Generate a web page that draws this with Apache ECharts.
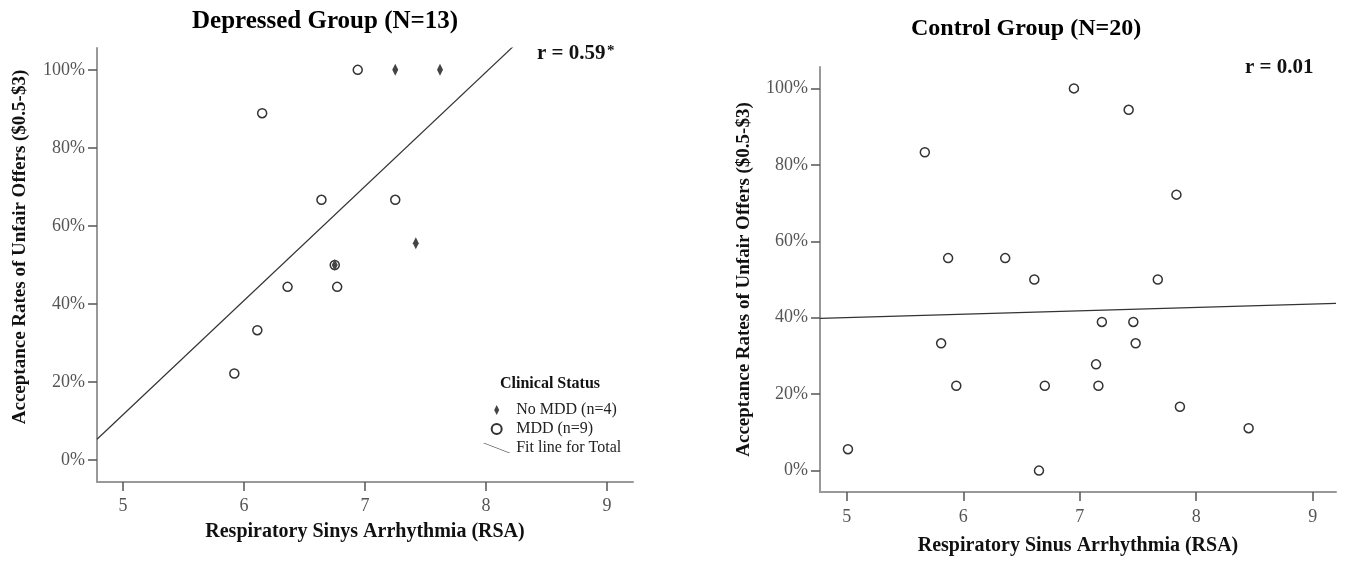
<!DOCTYPE html>
<html>
<head>
    <meta charset="utf-8">
    <script src="https://cdn.jsdelivr.net/npm/echarts@6/dist/echarts.min.js"></script>
    <title></title>
    <style>
        html, body { margin: 0; padding: 0; background: #fff; }
        #main { width: 1346px; height: 564px; }
    </style>
</head>
<body>
<div id="main"></div>
<script>
    // depressed group, RSA (x) vs acceptance rate in % (y)
    var noMddX = [7.25, 7.62, 7.42, 6.75];
    var noMddY = [100, 100, 55.6, 50];
    var mddX = [6.15, 6.64, 6.94, 7.25, 6.75, 6.77, 6.36, 6.11, 5.92];
    var mddY = [88.9, 66.7, 100, 66.7, 50, 44.4, 44.4, 33.3, 22.2];
    // control group
    var ctrlX = [5.67, 5.87, 6.36, 6.61, 6.95, 7.42, 7.83, 7.67, 5.81, 5.94,
                 6.70, 5.01, 6.65, 7.19, 7.46, 7.48, 7.14, 7.16, 7.86, 8.45];
    var ctrlY = [83.3, 55.6, 55.6, 50, 100, 94.4, 72.2, 50, 33.3, 22.2,
                 22.2, 5.6, 0, 38.9, 38.9, 33.3, 27.8, 22.2, 16.7, 11.1];
    var xTicks = [5, 6, 7, 8, 9];
    var yTicks = [0, 20, 40, 60, 80, 100];

    var serif = "'Liberation Serif', 'DejaVu Serif', serif";

    function pairs(xs, ys) {
        return xs.map(function (x, i) { return [x, ys[i]]; });
    }

    // least squares fit line (what the "Fit line for Total" is)
    function fitLine(xs, ys, x0, x1) {
        var n = xs.length, mx = 0, my = 0, sxy = 0, sxx = 0;
        for (var i = 0; i < n; i++) { mx += xs[i]; my += ys[i]; }
        mx /= n; my /= n;
        for (var j = 0; j < n; j++) {
            sxy += (xs[j] - mx) * (ys[j] - my);
            sxx += (xs[j] - mx) * (xs[j] - mx);
        }
        var b = sxy / sxx, a = my - b * mx;
        return [[x0, a + b * x0], [x1, a + b * x1]];
    }

    function xAxisFor(idx, min, max, name, gap, labelMargin) {
        return {
            gridIndex: idx, type: 'value', min: min, max: max,
            name: name, nameLocation: 'middle', nameGap: gap,
            nameTextStyle: { fontFamily: serif, fontWeight: 'bold', fontSize: 20, color: '#111' },
            axisLine: { show: true, onZero: false, lineStyle: { color: '#999', width: 2 } },
            axisTick: { show: true, customValues: xTicks, length: 9, lineStyle: { color: '#555', width: 1.5 } },
            axisLabel: { customValues: xTicks, margin: labelMargin, fontFamily: serif, fontSize: 18, color: '#555' },
            splitLine: { show: false }
        };
    }

    function yAxisFor(idx, name, gap, namePad) {
        return {
            gridIndex: idx, type: 'value', min: -5.6, max: 105.6,
            name: name, nameLocation: 'middle', nameGap: gap,
            nameTextStyle: { fontFamily: serif, fontWeight: 'bold', fontSize: 19, color: '#111', padding: namePad },
            axisLine: { show: true, onZero: false, lineStyle: { color: '#999', width: 2 } },
            axisTick: { show: true, customValues: yTicks, length: 9, lineStyle: { color: '#555', width: 1.5 } },
            axisLabel: { customValues: yTicks, formatter: '{value}%', margin: 12, fontFamily: serif, fontSize: 18, color: '#555' },
            splitLine: { show: false }
        };
    }

    var circleStyle = { color: '#fff', borderColor: '#333', borderWidth: 1.5, opacity: 1 };

    var myChart = echarts.init(document.getElementById('main'));
    myChart.setOption({
        animation: false,
        backgroundColor: '#fff',
        title: [
            { text: 'Depressed Group (N=13)', left: 192, top: 9, padding: 0,
              textStyle: { fontFamily: serif, fontWeight: 'bold', fontSize: 25, color: '#000' } },
            { text: 'Control Group (N=20)', left: 911, top: 17, padding: 0,
              textStyle: { fontFamily: serif, fontWeight: 'bold', fontSize: 24, color: '#000' } }
        ],
        grid: [
            { left: 97, top: 48, width: 536, height: 434, outerBoundsMode: 'none' },
            { left: 820, top: 67, width: 516, height: 425, outerBoundsMode: 'none' }
        ],
        xAxis: [
            xAxisFor(0, 4.785, 9.215, 'Respiratory Sinys Arrhythmia (RSA)', 40, 15),
            xAxisFor(1, 4.77, 9.2, 'Respiratory Sinus Arrhythmia (RSA)', 44, 16)
        ],
        yAxis: [
            yAxisFor(0, 'Acceptance Rates of Unfair Offers ($0.5-$3)', 67, [0, 0, 0, 36]),
            yAxisFor(1, 'Acceptance Rates of Unfair Offers ($0.5-$3)', 66, [0, 0, 0, 0])
        ],
        legend: {
            orient: 'vertical', left: 483, top: 402, padding: 0,
            itemWidth: 29, itemHeight: 10, itemGap: 3,
            textStyle: { fontFamily: serif, fontSize: 16, color: '#222' },
            data: [
                { name: 'No MDD (n=4)', icon: 'path://M3,0 L6,6 L3,12 L0,6 Z' },
                { name: 'MDD (n=9)' },
                { name: 'Fit line for Total', icon: 'path://M0,0 L1.6,0 L29,10.6 L27.4,10.6 Z' }
            ]
        },
        graphic: [
            { type: 'text', left: 500, top: 376,
              style: { text: 'Clinical Status', fontFamily: serif, fontWeight: 'bold', fontSize: 16, fill: '#111' } },
            { type: 'text', left: 537, top: 43,
              style: { text: 'r = 0.59', fontFamily: serif, fontWeight: 'bold', fontSize: 21, fill: '#111' } },
            { type: 'text', left: 607, top: 44,
              style: { text: '*', fontFamily: serif, fontWeight: 'bold', fontSize: 15, fill: '#111' } },
            { type: 'text', left: 1245, top: 57,
              style: { text: 'r = 0.01', fontFamily: serif, fontWeight: 'bold', fontSize: 21, fill: '#111' } }
        ],
        series: [
            {
                name: 'MDD (n=9)', type: 'scatter', xAxisIndex: 0, yAxisIndex: 0,
                symbol: 'circle', symbolSize: 9, itemStyle: circleStyle,
                data: pairs(mddX, mddY)
            },
            {
                name: 'No MDD (n=4)', type: 'scatter', xAxisIndex: 0, yAxisIndex: 0,
                symbol: 'diamond', symbolSize: [6, 12],
                itemStyle: { color: '#444', opacity: 1 },
                data: pairs(noMddX, noMddY)
            },
            {
                name: 'Fit line for Total', type: 'line', xAxisIndex: 0, yAxisIndex: 0,
                showSymbol: false, clip: true,
                itemStyle: { color: '#333' },
                lineStyle: { color: '#333', width: 1.2 },
                data: fitLine(mddX.concat(noMddX), mddY.concat(noMddY), 4.785, 9.215)
            },
            {
                name: 'Control', type: 'scatter', xAxisIndex: 1, yAxisIndex: 1,
                symbol: 'circle', symbolSize: 9, itemStyle: circleStyle,
                data: pairs(ctrlX, ctrlY)
            },
            {
                name: 'Control fit', type: 'line', xAxisIndex: 1, yAxisIndex: 1,
                showSymbol: false, clip: true,
                lineStyle: { color: '#333', width: 1.2 },
                data: fitLine(ctrlX, ctrlY, 4.77, 9.2)
            }
        ]
    });
    window.onresize = function () {
        myChart.resize();
    };
</script>
</body>
</html>
